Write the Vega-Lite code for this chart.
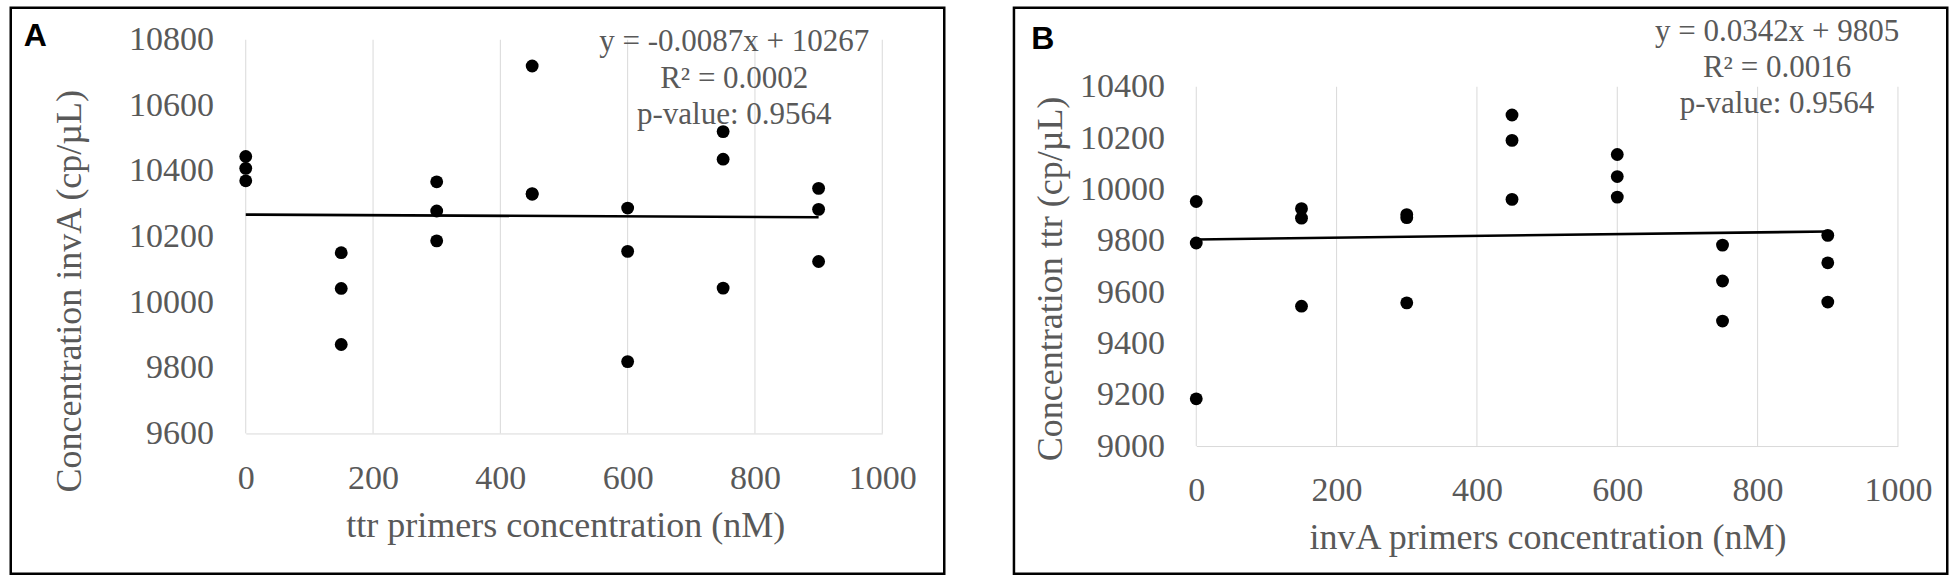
{
  "$schema": "https://vega.github.io/schema/vega-lite/v6.json",
  "background": "white",
  "padding": {"left": 8.75, "top": 5.75, "right": 0, "bottom": 0},
  "spacing": 69.2,
  "bounds": "flush",
  "config": {
    "view": {"stroke": "black", "strokeWidth": 2.5}
  },
  "datasets": {
    "pointsA": [
      {"x": 0, "y": 10444}, {"x": 0, "y": 10408}, {"x": 0, "y": 10370},
      {"x": 150, "y": 10151}, {"x": 150, "y": 10042}, {"x": 150, "y": 9871},
      {"x": 300, "y": 10367}, {"x": 300, "y": 10278}, {"x": 300, "y": 10187},
      {"x": 450, "y": 10720}, {"x": 450, "y": 10331}, {"x": 450, "y": 10329},
      {"x": 600, "y": 10287}, {"x": 600, "y": 10155}, {"x": 600, "y": 9819},
      {"x": 750, "y": 10520}, {"x": 750, "y": 10436}, {"x": 750, "y": 10043},
      {"x": 900, "y": 10347}, {"x": 900, "y": 10283}, {"x": 900, "y": 10124}
    ],
    "trendA": [{"x": 0, "y": 10267}, {"x": 900, "y": 10259}],
    "pointsB": [
      {"x": 0, "y": 9953}, {"x": 0, "y": 9791}, {"x": 0, "y": 9184},
      {"x": 150, "y": 9925}, {"x": 150, "y": 9888}, {"x": 150, "y": 9545},
      {"x": 300, "y": 9902}, {"x": 300, "y": 9890}, {"x": 300, "y": 9558},
      {"x": 450, "y": 10290}, {"x": 450, "y": 10191}, {"x": 450, "y": 9961},
      {"x": 600, "y": 10136}, {"x": 600, "y": 10050}, {"x": 600, "y": 9970},
      {"x": 750, "y": 9783}, {"x": 750, "y": 9643}, {"x": 750, "y": 9487},
      {"x": 900, "y": 9821}, {"x": 900, "y": 9714}, {"x": 900, "y": 9561}
    ],
    "trendB": [{"x": 0, "y": 9805}, {"x": 900, "y": 9836}],
    "gridA": [
      {"x": 0, "lo": 9600, "hi": 10800}, {"x": 200, "lo": 9600, "hi": 10800}, {"x": 400, "lo": 9600, "hi": 10800},
      {"x": 600, "lo": 9600, "hi": 10800}, {"x": 800, "lo": 9600, "hi": 10800}, {"x": 1000, "lo": 9600, "hi": 10800}
    ],
    "gridB": [
      {"x": 0, "lo": 9000, "hi": 10400}, {"x": 200, "lo": 9000, "hi": 10400}, {"x": 400, "lo": 9000, "hi": 10400},
      {"x": 600, "lo": 9000, "hi": 10400}, {"x": 800, "lo": 9000, "hi": 10400}, {"x": 1000, "lo": 9000, "hi": 10400}
    ],
    "notesA": [
      {"label": "A", "eq": "y = -0.0087x + 10267", "r2": "R² = 0.0002", "p": "p-value: 0.9564"}
    ],
    "notesB": [
      {"label": "B", "eq": "y = 0.0342x + 9805", "r2": "R² = 0.0016", "p": "p-value: 0.9564"}
    ]
  },
  "hconcat": [
    {
      "width": 933.5,
      "height": 566,
      "layer": [
        {
          "data": {"name": "gridA"},
          "mark": {"type": "rule", "color": "#D9D9D9", "strokeWidth": 1},
          "encoding": {
            "x": {
              "field": "x", "type": "quantitative",
              "scale": {"domain": [0, 1000], "range": [235, 871.5], "nice": false, "zero": false},
              "axis": {
                "title": "ttr primers concentration (nM)",
                "values": [0, 200, 400, 600, 800, 1000], "format": "d",
                "grid": false, "ticks": false, "tickSize": 0,
                "domainColor": "#D9D9D9", "domainWidth": 1,
                "labelFont": "Liberation Serif", "labelFontSize": 34, "labelColor": "#595959",
                "labelBaseline": "alphabetic", "labelPadding": 55, "labelFlush": false, "labelOverlap": false,
                "offset": -140.3,
                "titleFont": "Liberation Serif", "titleFontSize": 36, "titleFontWeight": "normal", "titleColor": "#595959",
                "titleX": 554.5, "titleY": 103.3, "titleBaseline": "alphabetic", "titleAlign": "center"
              }
            },
            "y": {
              "field": "lo", "type": "quantitative",
              "scale": {"domain": [9600, 10800], "range": [425.7, 32], "nice": false, "zero": false},
              "axis": {
                "title": "Concentration invA (cp/µL)",
                "values": [9600, 9800, 10000, 10200, 10400, 10600, 10800], "format": "d",
                "grid": false, "ticks": false, "tickSize": 0, "domain": false,
                "labelFont": "Liberation Serif", "labelFontSize": 34, "labelColor": "#595959",
                "labelPadding": 32.3, "labelOverlap": false, "labelFlush": false,
                "offset": -235,
                "titleFont": "Liberation Serif", "titleFontSize": 36, "titleFontWeight": "normal", "titleColor": "#595959",
                "titleX": -165, "titleY": 283, "titleBaseline": "alphabetic", "titleAlign": "center"
              }
            },
            "y2": {"field": "hi"}
          }
        },
        {
          "data": {"name": "trendA"},
          "mark": {"type": "line", "color": "black", "strokeWidth": 2.6},
          "encoding": {
            "x": {"field": "x", "type": "quantitative"},
            "y": {"field": "y", "type": "quantitative"}
          }
        },
        {
          "data": {"name": "pointsA"},
          "mark": {"type": "point", "shape": "circle", "filled": true, "color": "black", "opacity": 1, "size": 165},
          "encoding": {
            "x": {"field": "x", "type": "quantitative"},
            "y": {"field": "y", "type": "quantitative"}
          }
        },
        {
          "data": {"name": "notesA"},
          "mark": {
            "type": "text", "align": "center", "baseline": "alphabetic", "lineHeight": 36.3,
            "font": "Liberation Serif", "fontSize": 31, "color": "#595959"
          },
          "encoding": {
            "x": {"datum": 767.5, "type": "quantitative"},
            "y": {"datum": 10765, "type": "quantitative"},
            "text": {"value": ["y = -0.0087x + 10267", "R² = 0.0002", "p-value: 0.9564"]}
          }
        },
        {
          "data": {"name": "notesA"},
          "mark": {
            "type": "text", "align": "left", "baseline": "alphabetic",
            "font": "Liberation Sans", "fontWeight": "bold", "fontSize": 32, "color": "black"
          },
          "encoding": {
            "x": {"datum": -348.8, "type": "quantitative"},
            "y": {"datum": 10781.7, "type": "quantitative"},
            "text": {"field": "label"}
          }
        }
      ]
    },
    {
      "width": 933.3,
      "height": 566,
      "layer": [
        {
          "data": {"name": "gridB"},
          "mark": {"type": "rule", "color": "#D9D9D9", "strokeWidth": 1},
          "encoding": {
            "x": {
              "field": "x", "type": "quantitative",
              "scale": {"domain": [0, 1000], "range": [182.3, 884], "nice": false, "zero": false},
              "axis": {
                "title": "invA primers concentration (nM)",
                "values": [0, 200, 400, 600, 800, 1000], "format": "d",
                "grid": false, "ticks": false, "tickSize": 0,
                "domainColor": "#D9D9D9", "domainWidth": 1,
                "labelFont": "Liberation Serif", "labelFontSize": 34, "labelColor": "#595959",
                "labelBaseline": "alphabetic", "labelPadding": 54, "labelFlush": false, "labelOverlap": false,
                "offset": -127.7,
                "titleFont": "Liberation Serif", "titleFontSize": 36, "titleFontWeight": "normal", "titleColor": "#595959",
                "titleX": 533.6, "titleY": 102.4, "titleBaseline": "alphabetic", "titleAlign": "center"
              }
            },
            "y": {
              "field": "lo", "type": "quantitative",
              "scale": {"domain": [9000, 10400], "range": [438.3, 79], "nice": false, "zero": false},
              "axis": {
                "title": "Concentration ttr (cp/µL)",
                "values": [9000, 9200, 9400, 9600, 9800, 10000, 10200, 10400], "format": "d",
                "grid": false, "ticks": false, "tickSize": 0, "domain": false,
                "labelFont": "Liberation Serif", "labelFontSize": 34, "labelColor": "#595959",
                "labelPadding": 31.7, "labelOverlap": false, "labelFlush": false,
                "offset": -182.3,
                "titleFont": "Liberation Serif", "titleFontSize": 36, "titleFontWeight": "normal", "titleColor": "#595959",
                "titleX": -135, "titleY": 270.7, "titleBaseline": "alphabetic", "titleAlign": "center"
              }
            },
            "y2": {"field": "hi"}
          }
        },
        {
          "data": {"name": "trendB"},
          "mark": {"type": "line", "color": "black", "strokeWidth": 2.6},
          "encoding": {
            "x": {"field": "x", "type": "quantitative"},
            "y": {"field": "y", "type": "quantitative"}
          }
        },
        {
          "data": {"name": "pointsB"},
          "mark": {"type": "point", "shape": "circle", "filled": true, "color": "black", "opacity": 1, "size": 165},
          "encoding": {
            "x": {"field": "x", "type": "quantitative"},
            "y": {"field": "y", "type": "quantitative"}
          }
        },
        {
          "data": {"name": "notesB"},
          "mark": {
            "type": "text", "align": "center", "baseline": "alphabetic", "lineHeight": 36.3,
            "font": "Liberation Serif", "fontSize": 31, "color": "#595959"
          },
          "encoding": {
            "x": {"datum": 827.7, "type": "quantitative"},
            "y": {"datum": 10579.2, "type": "quantitative"},
            "text": {"value": ["y = 0.0342x + 9805", "R² = 0.0016", "p-value: 0.9564"]}
          }
        },
        {
          "data": {"name": "notesB"},
          "mark": {
            "type": "text", "align": "left", "baseline": "alphabetic",
            "font": "Liberation Sans", "fontWeight": "bold", "fontSize": 32, "color": "black"
          },
          "encoding": {
            "x": {"datum": -235.1, "type": "quantitative"},
            "y": {"datum": 10546.9, "type": "quantitative"},
            "text": {"field": "label"}
          }
        }
      ]
    }
  ]
}
